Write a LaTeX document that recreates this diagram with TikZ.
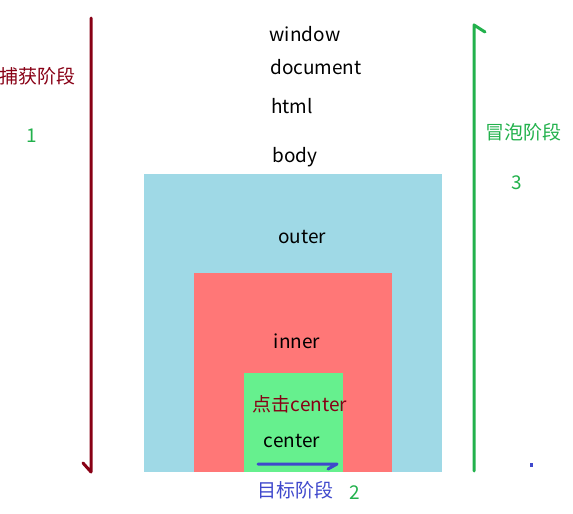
\documentclass[tikz,border=0pt]{standalone}
\usepackage{fontspec}
\setmainfont{Noto Sans CJK SC}
\usetikzlibrary{positioning}
\definecolor{Capture}{HTML}{880015}
\definecolor{Bubble}{HTML}{22B14C}
\definecolor{Target}{HTML}{3F48CC}
\definecolor{OuterBox}{HTML}{9FD9E6}
\definecolor{InnerBox}{HTML}{FF7777}
\definecolor{CenterBox}{HTML}{66F08E}

\begin{document}
\begin{tikzpicture}[x=1pt,y=-1pt,
  lbl/.style={inner sep=0pt,font=\fontsize{19}{19}\selectfont},
  phase/.style={line width=3pt,line cap=round,line join=round}]
  \useasboundingbox (0,0) rectangle (573,514);
  % nested boxes
  \fill[OuterBox] (144,174) rectangle (442,472);
  \fill[InnerBox] (194,273) rectangle (392,472);
  \fill[CenterBox] (244,373) rectangle (343,472);
  % element names
  \node[lbl] (win) at (305,34) {window};
  \node[lbl] (doc) at (316,67) {document};
  \node[lbl] (html) at (292,106) {html};
  \node[lbl] (body) at (295,157) {body};
  \node[lbl] (outer) at (302,237) {outer};
  \node[lbl] (inner) at (297,341) {inner};
  \node[lbl,text=Capture] (click) at (300,404) {点击center};
  \node[lbl] (center) at (292,441) {center};
  % phases
  \node[lbl,text=Capture] (capName) at (37,76) {捕获阶段};
  \node[lbl,text=Bubble] (capNum) at (32,136) {1};
  \node[lbl,text=Target] (tgtName) at (295,490) {目标阶段};
  \node[lbl,text=Bubble] (tgtNum) at (355,493) {2};
  \node[lbl,text=Bubble] (bubName) at (523,132) {冒泡阶段};
  \node[lbl,text=Bubble] (bubNum) at (517,183) {3};
  \coordinate (capTop) at (91,18);
  \coordinate (capEnd) at (91,472);
  \coordinate (bubStart) at (474,471);
  \coordinate (bubEnd) at (474,25);
  \coordinate (tgtStart) at (258,464);
  \coordinate (tgtEnd) at (337,464);
  \draw[phase,Capture] (capTop) -- (capEnd) -- ++(-8,-9);
  \draw[phase,Bubble] (bubStart) -- (bubEnd) -- ++(11,7);
  \draw[phase,Target] (tgtStart) -- (tgtEnd) -- ++(-9,5);
  \fill[Target] (530,463) rectangle (533,467);
\end{tikzpicture}
\end{document}
